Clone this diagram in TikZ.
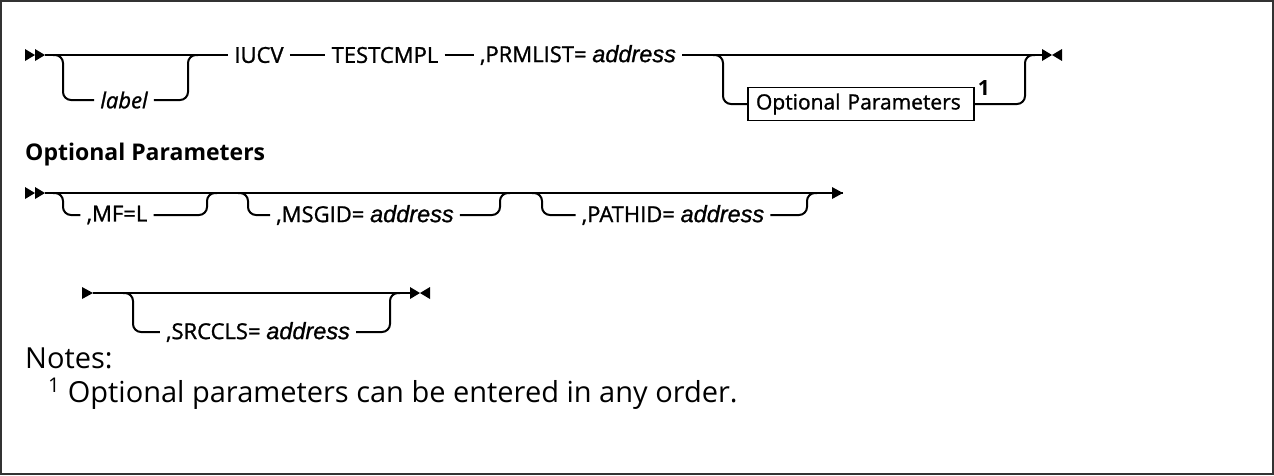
\documentclass[tikz,border=0pt]{standalone}
\usepackage{fontspec}
\setmainfont{Open Sans}
\newfontfamily\synfont{Open Sans}[FakeBold=1.2]
\newfontfamily\addrfont{Liberation Sans}[FakeBold=1]
\usetikzlibrary{positioning}
\definecolor{framegray}{HTML}{333333}
\newcommand{\addr}{{\addrfont\itshape\fontsize{23.5}{26}\selectfont address}}
\tikzset{
  rail/.style={line width=2pt},
  branch/.style={rail, rounded corners=8pt},
  syn/.style={font=\synfont\fontsize{22}{26}\selectfont, inner sep=6pt},
  optbox/.style={draw, line width=1.5pt, font=\synfont\fontsize{21}{24}\selectfont, text width=210pt, align=left, inner xsep=8pt, minimum height=33pt},
  notes/.style={font=\fontsize{29}{32}\selectfont, inner sep=0pt, anchor=base west},
  pics/railstart/.style={code={
    \fill (-20,-6) -- (-10,0) -- (-20,6) -- cycle;
    \fill (-10,-6) -- (0,0) -- (-10,6) -- cycle;}},
  pics/railtip/.style={code={\fill (-11,-6) -- (0,0) -- (-11,6) -- cycle;}},
  pics/railend/.style={code={
    \fill (0,-6) -- (10,0) -- (0,6) -- cycle;
    \fill (20,-6) -- (10,0) -- (20,6) -- cycle;}}
}
\begin{document}
\begin{tikzpicture}[x=1pt, y=-1pt]
  \useasboundingbox (0,0) rectangle (1274,475);
  \draw[line width=2pt, framegray] (1,1) rectangle (1273,474);

  % Ligne principale
  \coordinate (s1) at (45,55);
  \coordinate (e1) at (1042,55);
  \pic at (s1) {railstart};
  \pic at (e1) {railend};
  \node[syn] (iucv) at (259,55) {IUCV};
  \node[syn] (testcmpl) at (385,55) {TESTCMPL};
  \node[syn] (prmlist) at (578,55) {,PRMLIST= \addr};
  \draw[rail] (s1) -- (iucv);
  \draw[rail] (iucv) -- (testcmpl);
  \draw[rail] (testcmpl) -- (prmlist);
  \draw[rail] (prmlist) -- (e1);

  % label (facultatif)
  \node[syn] (lbl) at (124,100) {\itshape label};
  \coordinate (lblin) at (63,55);
  \coordinate (lblout) at (188,55);
  \draw[branch] ([xshift=-10]lblin) -- (lblin) |- (lbl.west);
  \draw[branch] (lbl.east) -| (lblout) -- ([xshift=10]lblout);

  % Optional Parameters (facultatif)
  \node[optbox] (opt) at (861,104) {Optional Parameters};
  \node[anchor=west, font=\fontsize{21}{24}\bfseries, inner sep=0pt] (fn1) at ([xshift=3,yshift=-1]opt.north east) {1};
  \coordinate (optin) at (723,55);
  \coordinate (optout) at (1025,55);
  \draw[branch] ([xshift=-10]optin) -- (optin) |- (opt.west);
  \draw[branch] (opt.east) -| (optout) -- ([xshift=10]optout);

  % Titre du fragment
  \node[anchor=base west, inner sep=0pt, font=\fontsize{23}{26}\bfseries] (opthead) at (25,160) {Optional Parameters};

  % Fragment, ligne 1
  \coordinate (s2) at (45,193);
  \coordinate (e2) at (843,193);
  \pic at (s2) {railstart};
  \pic at (e2) {railtip};
  \draw[rail] (s2) -- (e2);
  \node[syn] (mfl) at (117,215) {,MF=L};
  \node[syn] (msgid) at (365,215) {,MSGID= \addr};
  \node[syn] (pathid) at (673,215) {,PATHID= \addr};
  \coordinate (mflin) at (63,193);
  \coordinate (mflout) at (207,193);
  \coordinate (msgidin) at (248,193);
  \coordinate (msgidout) at (500,193);
  \coordinate (pathidin) at (542,193);
  \coordinate (pathidout) at (807,193);
  \draw[branch] ([xshift=-10]mflin) -- (mflin) |- (mfl.west);
  \draw[branch] (mfl.east) -| (mflout) -- ([xshift=10]mflout);
  \draw[branch] ([xshift=-10]msgidin) -- (msgidin) |- (msgid.west);
  \draw[branch] (msgid.east) -| (msgidout) -- ([xshift=10]msgidout);
  \draw[branch] ([xshift=-10]pathidin) -- (pathidin) |- (pathid.west);
  \draw[branch] (pathid.east) -| (pathidout) -- ([xshift=10]pathidout);

  % Fragment, ligne 2
  \coordinate (s3) at (93,293);
  \coordinate (e3) at (410,293);
  \pic at (s3) {railtip};
  \pic at (e3) {railend};
  \draw[rail] (s3) -- (e3);
  \node[syn] (srccls) at (258,332) {,SRCCLS= \addr};
  \coordinate (srcclsin) at (133,293);
  \coordinate (srcclsout) at (390,293);
  \draw[branch] ([xshift=-10]srcclsin) -- (srcclsin) |- (srccls.west);
  \draw[branch] (srccls.east) -| (srcclsout) -- ([xshift=10]srcclsout);

  % Notes
  \node[notes] (notes) at (25,368) {Notes:};
  \node[notes] (fn) at (48,402) {\textsuperscript{1} Optional parameters can be entered in any order.};
\end{tikzpicture}
\end{document}
